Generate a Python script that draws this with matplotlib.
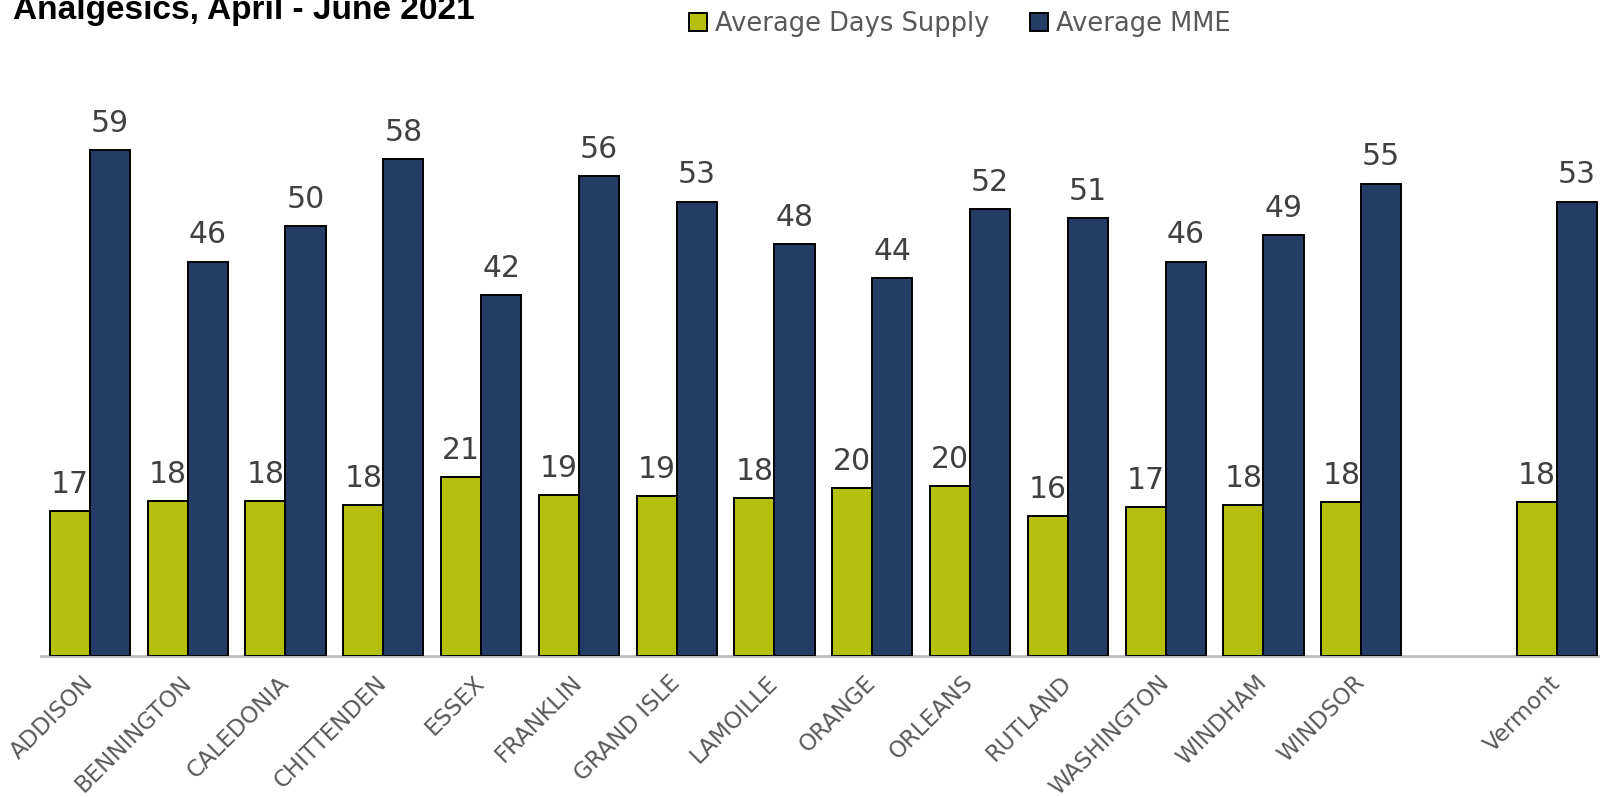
import matplotlib
matplotlib.use("Agg")
import matplotlib.pyplot as plt
from matplotlib import font_manager
from matplotlib.patches import Patch
from matplotlib.transforms import ScaledTranslation
import numpy as np

# | data |-------------------------------------------------------------------------------------------------------------|
counties = ["ADDISON", "BENNINGTON", "CALEDONIA", "CHITTENDEN", "ESSEX", "FRANKLIN", "GRAND ISLE",
            "LAMOILLE", "ORANGE", "ORLEANS", "RUTLAND", "WASHINGTON", "WINDHAM", "WINDSOR", "", "Vermont"]
days_supply = [16.9, 18.1, 18.1, 17.6, 20.9, 18.8, 18.6, 18.4, 19.6, 19.8, 16.3, 17.4, 17.6, 17.9, None, 17.9]
avg_mme = [59.0, 46.0, 50.1, 58.0, 42.1, 56.0, 53.0, 48.0, 44.1, 52.1, 51.1, 46.0, 49.1, 55.1, None, 53.0]
series_names = ["Average Days Supply", "Average MME"]
title = "Analgesics, April - June 2021"

# | style |------------------------------------------------------------------------------------------------------------|
green = "#B5BF0E"
navy = "#243D66"
label_grey = "#404040"
text_grey = "#595959"

installed = {f.name for f in font_manager.fontManager.ttflist}
title_font = "Liberation Sans Narrow" if "Liberation Sans Narrow" in installed else "Liberation Sans"

fig = plt.figure(figsize=(16, 7.97), dpi=100, facecolor="w")
ax = fig.add_axes([0.0256, 0.177, 0.978, 0.753])

x = np.arange(len(counties))
w = 0.41
for vals, off, col in [(days_supply, -w / 2, green), (avg_mme, w / 2, navy)]:
    xs = [xi + off for xi, v in zip(x, vals) if v is not None]
    hs = [v for v in vals if v is not None]
    ax.bar(xs, hs, width=w, color=col, edgecolor="black", linewidth=1.4, zorder=2)
    for xi, h in zip(xs, hs):
        ax.annotate(f"{h:.0f}", (xi, h), xytext=(0, 13), textcoords="offset points",
                    ha="center", va="baseline", fontsize=21.5, color=label_grey,
                    family="DejaVu Sans", zorder=3)

ax.set_xlim(-0.5, len(counties) - 0.5)
ax.set_ylim(0, 70)
ax.set_yticks([])
ax.set_xticks(x)
ax.set_xticklabels(counties, rotation=45, ha="right", va="top", rotation_mode="anchor",
                   fontsize=16.5, color=text_grey, family="DejaVu Sans")
ax.tick_params(axis="x", length=0, pad=11)
shift = ScaledTranslation(-8 / 100, 0, fig.dpi_scale_trans)
for lbl in ax.get_xticklabels():
    lbl.set_transform(lbl.get_transform() + shift)
for s in ["top", "right", "left"]:
    ax.spines[s].set_visible(False)
ax.spines["bottom"].set_color("#BFBFBF")
ax.spines["bottom"].set_linewidth(2)
ax.spines["bottom"].set_zorder(1)

fig.text(13 / 1600, 1 - 19 / 797, title, fontsize=24, fontweight="bold", family=title_font,
         ha="left", va="baseline", color="black")

handles = [Patch(facecolor=green, edgecolor="black", linewidth=1.4),
           Patch(facecolor=navy, edgecolor="black", linewidth=1.4)]
fig.legend(handles, series_names, loc="center", bbox_to_anchor=(960 / 1600, 1 - 24 / 797), ncol=2,
           frameon=False, labelcolor=text_grey, handlelength=0.7, handleheight=0.7,
           handletextpad=0.3, columnspacing=1.6, prop={"family": "DejaVu Sans", "size": 18.5})

fig.savefig("out.png", dpi=100, facecolor="w")
